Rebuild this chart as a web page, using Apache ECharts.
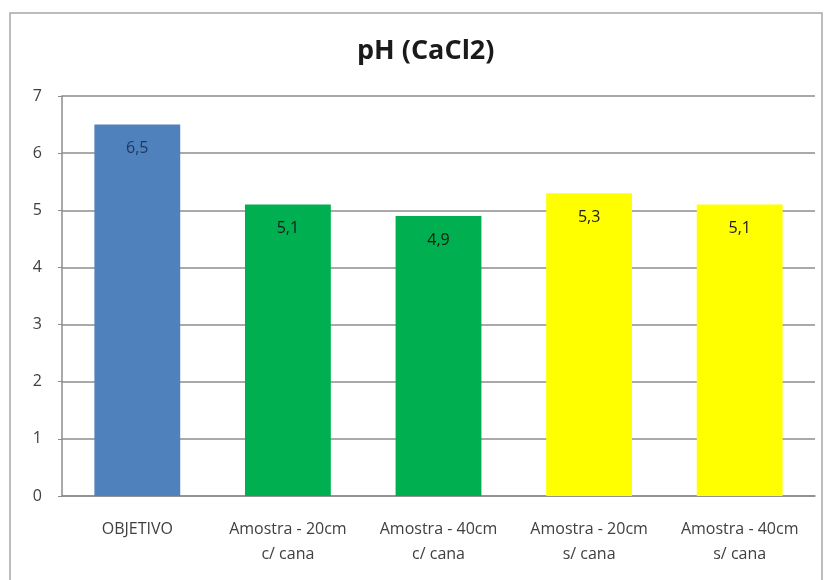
<!DOCTYPE html>
<html>
<head>
<meta charset="utf-8">
<script src="https://cdn.jsdelivr.net/npm/echarts@6/dist/echarts.min.js"></script>
<style>html,body{margin:0;padding:0;background:#fff}#c{width:827px;height:580px}</style>
</head>
<body>
<div id="c"></div>
<script>
var categories = ['OBJETIVO', 'Amostra - 20cm\nc/ cana', 'Amostra - 40cm\nc/ cana', 'Amostra - 20cm\ns/ cana', 'Amostra - 40cm\ns/ cana'];
var values = [6.5, 5.1, 4.9, 5.3, 5.1];
var barColors = ['#4f81bd', '#00b050', '#00b050', '#ffff00', '#ffff00'];
var labelColors = ['#1f3864', '#1a1a1a', '#1a1a1a', '#1a1a1a', '#1a1a1a'];

var chart = echarts.init(document.getElementById('c'));
chart.setOption({
  animation: false,
  backgroundColor: '#ffffff',
  graphic: [{
    type: 'rect', shape: {x: 10, y: 13, width: 812, height: 570},
    style: {fill: 'none', stroke: '#a6a6a6', lineWidth: 1.5}, silent: true
  }],
  title: {
    text: 'pH (CaCl2)', left: 352, top: 33,
    textStyle: {fontFamily: 'Open Sans', fontWeight: 'bold', fontSize: 27, color: '#1a1a1a'}
  },
  grid: {left: 62, right: 12, top: 96, bottom: 84},
  xAxis: {
    type: 'category', data: categories,
    axisLine: {lineStyle: {color: '#8c8c8c', width: 1.5}},
    axisTick: {show: false},
    axisLabel: {fontFamily: 'Open Sans', fontSize: 16, color: '#404040', margin: 21, lineHeight: 25, interval: 0}
  },
  yAxis: {
    type: 'value', min: 0, max: 7, interval: 1,
    axisLine: {show: true, lineStyle: {color: '#8c8c8c', width: 1.5}},
    axisTick: {show: true, length: 4, lineStyle: {color: '#8c8c8c'}},
    splitLine: {lineStyle: {color: '#8c8c8c', width: 1.5}},
    axisLabel: {fontFamily: 'Open Sans', fontSize: 16, color: '#404040', margin: 20}
  },
  series: [{
    type: 'bar', barCategoryGap: '43%',
    data: values.map(function (v, i) {
      return {value: v, itemStyle: {color: barColors[i]}, label: {color: labelColors[i]}};
    }),
    label: {
      show: true, position: 'insideTop', distance: 16,
      fontFamily: 'Open Sans', fontSize: 16,
      formatter: function (p) { return String(p.value).replace('.', ','); }
    }
  }]
});
</script>
</body>
</html>
